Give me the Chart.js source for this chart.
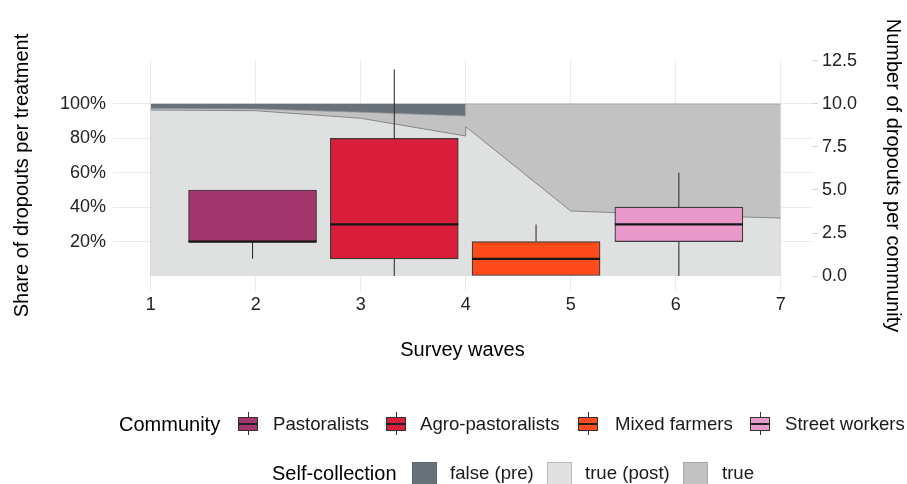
<!DOCTYPE html>
<html>
<head>
  <title>Dropouts per survey wave</title>
  <script src="https://cdn.jsdelivr.net/npm/chart.js"></script>
  <style>
    body { margin: 0; background: #fff; font-family: "Liberation Sans", Arial, sans-serif; }
    .wrap { position: relative; width: 907px; height: 484px; overflow: hidden; }
    .lg { position: absolute; font-size: 18.6px; line-height: 24px; color: #1a1a1a; white-space: nowrap; }
    .lg.ttl { font-size: 20px; color: #000; }
    .bkey { position: absolute; width: 20px; height: 24px; }
    .bkey .wh { position: absolute; left: 9.5px; top: 0; width: 1px; height: 23px; background: #333; }
    .bkey .bd { position: absolute; left: 0; top: 5px; width: 20px; height: 14px; box-sizing: border-box; border: 1px solid #333; }
    .bkey .md { position: absolute; left: 0; top: 11px; width: 20px; height: 1.5px; background: #222; }
    .skey { position: absolute; width: 25px; height: 25px; box-sizing: border-box; border: 1px solid #999; }
  </style>
</head>
<body>

<div class="wrap">
  <canvas id="chart" width="907" height="484"></canvas>
  <div id="legend"></div>
</div>

<script>
// survey waves and treatment shares (%)
const xTicks = [1, 2, 3, 4, 5, 6, 7];
const preWaves = [1, 2, 3, 4];
const postWaves = [4, 5, 6, 7];
const preTruePost = [96.5, 96.1, 91.7, 81.4];
const preTrue = [0.9, 1.0, 3.5, 11.6];
const preFalse = [2.6, 2.9, 4.8, 7.0];
const postTruePost = [86.8, 37.8, 35.5, 33.7];
const postTrue = [13.2, 62.2, 64.5, 66.3];
const shareTicks = [20, 40, 60, 80, 100];

// dropouts per community (boxplot stats)
const communities = ['Pastoralists', 'Agro-pastoralists', 'Mixed farmers', 'Street workers'];
const boxPos = [1.97, 3.32, 4.67, 6.03];
const lowWhisker = [1, 0, 0, 0];
const q1 = [2, 1, 0, 2];
const median = [2, 3, 1, 3];
const q3 = [5, 8, 2, 4];
const highWhisker = [5, 12, 3, 6];
const countTicks = [0, 2.5, 5, 7.5, 10, 12.5];

const boxColors = ['#a3366d', '#d81e3a', '#fe4b1b', '#e99acb'];
const areaColors = { pre: '#6a7279', post: '#dfe1e0', tru: '#c2c2c2' };

// cumulative tops for the areas
const lightPts = preWaves.map((w, i) => ({ x: w, y: preTruePost[i] }))
  .concat(postWaves.map((w, i) => ({ x: w, y: postTruePost[i] })));
const midPts = preWaves.map((w, i) => ({ x: w, y: preTruePost[i] + preTrue[i] }))
  .concat(postWaves.map((w, i) => ({ x: w, y: postTruePost[i] + postTrue[i] })));
const darkPts = preWaves.map((w, i) => ({ x: w, y: preTruePost[i] + preTrue[i] + preFalse[i] }));

Chart.defaults.font.family = '"Liberation Sans", Arial, sans-serif';
Chart.defaults.color = '#333';

const boxExtras = {
  id: 'boxExtras',
  afterDatasetsDraw(chart) {
    const { ctx, scales: { x, y1 } } = chart;
    const meta = chart.getDatasetMeta(0);
    ctx.save();
    boxPos.forEach((p, i) => {
      const cx = x.getPixelForValue(p);
      const half = meta.data[i].width / 2;
      ctx.strokeStyle = '#333';
      ctx.lineWidth = 1.1;
      ctx.beginPath();
      ctx.moveTo(cx, y1.getPixelForValue(lowWhisker[i]));
      ctx.lineTo(cx, y1.getPixelForValue(q1[i]));
      ctx.moveTo(cx, y1.getPixelForValue(q3[i]));
      ctx.lineTo(cx, y1.getPixelForValue(highWhisker[i]));
      ctx.stroke();
      const ym = y1.getPixelForValue(median[i]);
      ctx.strokeStyle = '#161616';
      ctx.lineWidth = 2.2;
      ctx.beginPath();
      ctx.moveTo(cx - half, ym);
      ctx.lineTo(cx + half, ym);
      ctx.stroke();
    });
    ctx.restore();
  }
};

new Chart(document.getElementById('chart').getContext('2d'), {
  type: 'line',
  data: {
    datasets: [
      {
        type: 'bar', label: 'boxes', yAxisID: 'y1', order: 0,
        data: boxPos.map((p, i) => ({ x: p, y: [q1[i], q3[i]] })),
        backgroundColor: boxColors, borderColor: '#3a3a3a', borderWidth: 1.2,
        borderSkipped: false, barThickness: 128
      },
      {
        label: 'true (post)', yAxisID: 'y', order: 1, data: lightPts,
        backgroundColor: areaColors.post, borderColor: '#7b8085', borderWidth: 0.9,
        fill: 'origin', pointRadius: 0, tension: 0
      },
      {
        label: 'true', yAxisID: 'y', order: 2, data: midPts,
        backgroundColor: areaColors.tru, borderColor: '#9a9a9a', borderWidth: 0.7,
        fill: 'origin', pointRadius: 0, tension: 0
      },
      {
        label: 'false (pre)', yAxisID: 'y', order: 3, data: darkPts,
        backgroundColor: areaColors.pre, borderColor: areaColors.pre, borderWidth: 0.5,
        fill: 'origin', pointRadius: 0, tension: 0
      }
    ]
  },
  options: {
    responsive: false,
    animation: false,
    layout: { padding: { top: 60, left: 0, right: 0, bottom: 0 } },
    plugins: { legend: { display: false }, tooltip: { enabled: false } },
    scales: {
      x: {
        type: 'linear', min: 0.641, max: 7.298, offset: false,
        afterBuildTicks: s => { s.ticks = xTicks.map(v => ({ value: v })); },
        afterFit: s => { s.height = 193; },
        ticks: { font: { size: 18 }, color: '#222', padding: 3 },
        grid: { color: '#ebebeb', drawTicks: false, offset: false },
        border: { display: false },
        title: { display: true, text: 'Survey waves', color: '#000', font: { size: 20 }, padding: { top: 0, bottom: 122 } }
      },
      y: {
        position: 'left', min: -8.72, max: 125.58,
        afterBuildTicks: s => { s.ticks = shareTicks.map(v => ({ value: v })); },
        afterFit: s => { s.width = 113; },
        ticks: { font: { size: 18 }, color: '#222', padding: 7, callback: v => v + '%' },
        grid: { color: '#ebebeb', drawTicks: false },
        border: { display: false },
        title: { display: true, text: 'Share of dropouts per treatment', color: '#000', font: { size: 20 }, padding: { top: 10, bottom: 0 } }
      },
      y1: {
        position: 'right', min: -0.872, max: 12.558,
        afterBuildTicks: s => { s.ticks = countTicks.map(v => ({ value: v })); },
        afterFit: s => { s.width = 95; },
        ticks: { font: { size: 18 }, color: '#222', padding: 4, callback: v => v.toFixed(1) },
        grid: { drawOnChartArea: false, drawTicks: true, tickLength: 6, color: '#d4d4d4' },
        border: { display: false },
        title: { display: true, text: 'Number of dropouts per community', color: '#000', font: { size: 20 }, padding: { top: 2, bottom: 0 } }
      }
    }
  },
  plugins: [boxExtras]
});

// legend below the chart
const legend = document.getElementById('legend');
let html = '<div class="lg ttl" style="left:119px;top:412px">Community</div>';
const boxKeyX = [238, 386, 578, 750];
const boxTextX = [273, 420, 615, 785];
communities.forEach((c, i) => {
  html += `<div class="bkey" style="left:${boxKeyX[i]}px;top:412px"><div class="wh"></div>` +
    `<div class="bd" style="background:${boxColors[i]}"></div><div class="md"></div></div>` +
    `<div class="lg" style="left:${boxTextX[i]}px;top:412px">${c}</div>`;
});
html += '<div class="lg ttl" style="left:272px;top:461px">Self-collection</div>';
const fillLabels = ['false (pre)', 'true (post)', 'true'];
const fillColors = [areaColors.pre, areaColors.post, areaColors.tru];
const fillBorders = ['#5f666c', '#b8baba', '#a8a8a8'];
const sqX = [412, 547, 683];
const sqTextX = [450, 585, 722];
fillLabels.forEach((l, i) => {
  html += `<div class="skey" style="left:${sqX[i]}px;top:462px;background:${fillColors[i]};border-color:${fillBorders[i]}"></div>` +
    `<div class="lg" style="left:${sqTextX[i]}px;top:461px">${l}</div>`;
});
legend.innerHTML = html;
</script>

</body>
</html>
